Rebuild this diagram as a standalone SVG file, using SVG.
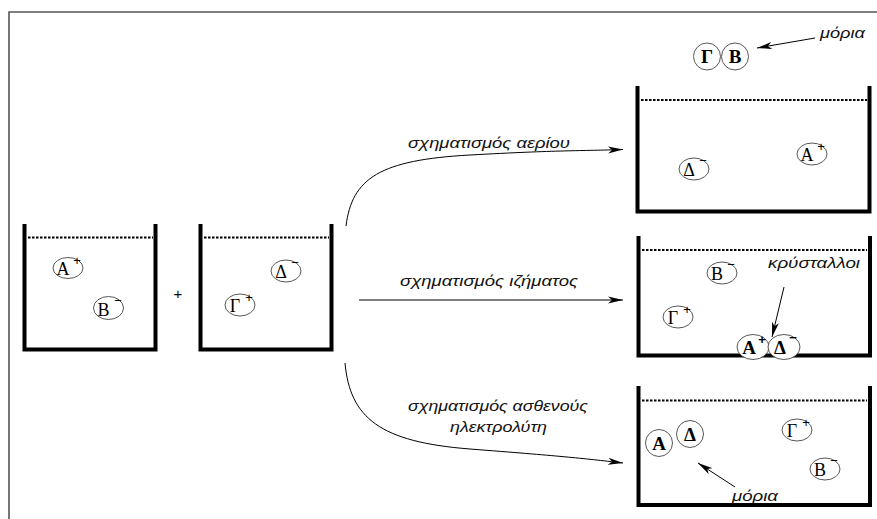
<svg xmlns="http://www.w3.org/2000/svg" width="877" height="519" viewBox="0 0 877 519">
<style>
.frame{fill:none;stroke:#555;stroke-width:1.6}
.wall{fill:none;stroke:#000;stroke-width:4;stroke-linecap:square}
.liq{fill:none;stroke:#000;stroke-width:2.2;stroke-dasharray:2.5 1.5}
.ion{fill:#fff;stroke:#444;stroke-width:0.9}
.let{font-family:"Liberation Serif",serif;font-size:18px;fill:#000;text-anchor:middle}
.bold{font-weight:bold;font-size:19px}
.sup{font-family:"Liberation Sans",sans-serif;font-size:13px;fill:#000;text-anchor:middle}
.lbl{font-family:"Liberation Sans",sans-serif;font-style:italic;font-size:14px;fill:#111}
.conn{fill:none;stroke:#000;stroke-width:1}
</style>
<defs>
<marker id="ah" markerWidth="16" markerHeight="8" refX="15" refY="4" orient="auto" markerUnits="userSpaceOnUse">
<path d="M0,0.5 L15,4 L0,7.5 L4,4 z" fill="#000"/>
</marker>
</defs>
<rect width="877" height="519" fill="#fff"/>
<path class="frame" d="M9,519 V12 H877"/>

<g id="beaker1">
<path class="wall" d="M24.5,226 V349.5 H155.5 V226"/>
<line class="liq" x1="28" y1="237.5" x2="153" y2="237.5"/>
<g id="ion-A-plus-1"><ellipse class="ion" cx="68" cy="268" rx="15" ry="10.5"/><text class="let" x="63" y="275">Α</text><text class="sup" x="77" y="265">+</text></g>
<g id="ion-B-minus-1"><ellipse class="ion" cx="108.5" cy="308" rx="15" ry="11.5"/><text class="let" x="103.5" y="316">Β</text><text class="sup" x="118" y="305">−</text></g>
</g>

<text id="plus" class="sup" x="178" y="299" style="font-size:15px">+</text>

<g id="beaker2">
<path class="wall" d="M200.5,226 V349.5 H331.5 V226"/>
<line class="liq" x1="204" y1="237.5" x2="329" y2="237.5"/>
<g id="ion-D-minus-2"><ellipse class="ion" cx="286" cy="271" rx="15" ry="11"/><text class="let" x="281" y="278">Δ</text><text class="sup" x="295" y="267">−</text></g>
<g id="ion-G-plus-2"><ellipse class="ion" cx="240" cy="305" rx="15" ry="11"/><text class="let" x="235" y="312">Γ</text><text class="sup" x="249" y="302">+</text></g>
</g>

<g id="beaker-gas">
<path class="wall" d="M637.5,88 V211.5 H869.5 V88"/>
<line class="liq" x1="641" y1="100" x2="867" y2="100"/>
<g id="ion-D-minus-3"><ellipse class="ion" cx="694" cy="169" rx="15" ry="11"/><text class="let" x="689" y="176">Δ</text><text class="sup" x="703" y="165">−</text></g>
<g id="ion-A-plus-3"><ellipse class="ion" cx="812" cy="154" rx="15" ry="11"/><text class="let" x="807" y="161">Α</text><text class="sup" x="821" y="151">+</text></g>
<g id="molecule-GB"><circle class="ion" cx="707" cy="56.5" r="13.5"/><circle class="ion" cx="735" cy="56.5" r="13.5"/><text class="let bold" x="707" y="63">Γ</text><text class="let bold" x="735" y="63">Β</text></g>
<text class="lbl" x="820" y="38" textLength="45" lengthAdjust="spacingAndGlyphs">μόρια</text>
</g>

<g id="beaker-precipitate">
<path class="wall" d="M638.5,238 V355.5 H870 V238"/>
<line class="liq" x1="642" y1="250" x2="867" y2="250"/>
<g id="ion-B-minus-4"><ellipse class="ion" cx="722" cy="273" rx="15" ry="11"/><text class="let" x="717" y="280">Β</text><text class="sup" x="731" y="269">−</text></g>
<g id="ion-G-plus-4"><ellipse class="ion" cx="678" cy="317" rx="15" ry="11"/><text class="let" x="673" y="324">Γ</text><text class="sup" x="687" y="314">+</text></g>
<g id="crystal"><ellipse class="ion" cx="753" cy="347" rx="16" ry="12.5"/><ellipse class="ion" cx="784" cy="347" rx="16" ry="12.5"/><text class="let bold" x="749" y="354">Α</text><text class="sup" x="762" y="344" style="font-weight:bold">+</text><text class="let bold" x="780" y="354">Δ</text><text class="sup" x="793" y="342" style="font-weight:bold">−</text></g>
<text class="lbl" x="768" y="268" textLength="92" lengthAdjust="spacingAndGlyphs">κρύσταλλοι</text>
</g>

<g id="beaker-weak">
<path class="wall" d="M638.5,388 V505 H870 V388"/>
<line class="liq" x1="642" y1="400.5" x2="867" y2="400.5"/>
<g id="molecule-AD"><circle class="ion" cx="659" cy="443" r="13.5"/><circle class="ion" cx="690" cy="434" r="13.5"/><text class="let bold" x="659" y="449.5">Α</text><text class="let bold" x="690" y="440.5">Δ</text></g>
<g id="ion-G-plus-5"><ellipse class="ion" cx="797" cy="430" rx="15" ry="11"/><text class="let" x="792" y="437">Γ</text><text class="sup" x="806" y="427">+</text></g>
<g id="ion-B-minus-5"><ellipse class="ion" cx="825" cy="469" rx="15" ry="11"/><text class="let" x="820" y="476">Β</text><text class="sup" x="834" y="465">−</text></g>
<text class="lbl" x="732" y="501" textLength="46" lengthAdjust="spacingAndGlyphs">μόρια</text>
</g>

<g id="connectors">
<path class="conn" d="M346,226 C352,178 380,160 470,155 S580,151 623,149.5" marker-end="url(#ah)"/>
<path class="conn" d="M359,300 H623" marker-end="url(#ah)"/>
<path class="conn" d="M345,363 C350,418 380,442 470,449 S580,458 623,463" marker-end="url(#ah)"/>
<path class="conn" d="M815,38 L757,48" marker-end="url(#ah)"/>
<path class="conn" d="M784,287 L772,337" marker-end="url(#ah)"/>
<path class="conn" d="M735,487 L698,463" marker-end="url(#ah)"/>
</g>

<g id="labels">
<text class="lbl" x="408" y="148" textLength="162" lengthAdjust="spacingAndGlyphs">σχηματισμός αερίου</text>
<text class="lbl" x="400" y="286" textLength="178" lengthAdjust="spacingAndGlyphs">σχηματισμός ιζήματος</text>
<text class="lbl" x="408" y="411" textLength="180" lengthAdjust="spacingAndGlyphs">σχηματισμός ασθενούς</text>
<text class="lbl" x="450" y="432" textLength="97" lengthAdjust="spacingAndGlyphs">ηλεκτρολύτη</text>
</g>
</svg>
